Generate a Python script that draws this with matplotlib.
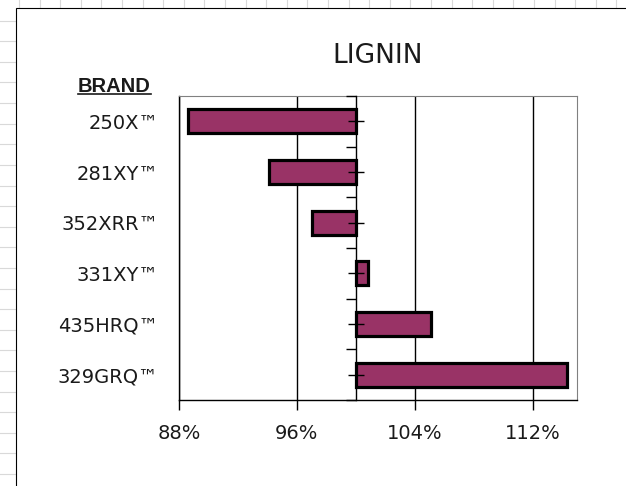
#!/usr/bin/env python3
"""Horizontal bar chart of lignin index by brand, centred on 100%."""

import matplotlib
matplotlib.use('Agg')
import matplotlib.pyplot as plt
from matplotlib.lines import Line2D
from matplotlib.patches import Rectangle

# data
brands = ['250X™', '281XY™', '352XRR™', '331XY™', '435HRQ™', '329GRQ™']
lignin_pct = [88.6, 94.1, 97.0, 100.8, 105.1, 114.3]
baseline = 100
x_ticks = [88, 96, 104, 112]
x_min, x_max = 88, 115

W, H = 626, 486
BAR_COLOR = '#993366'
TEXT_COLOR = '#1a1a1a'


def px(x, y):
    """pixel position (from top-left) -> figure fraction"""
    return x / W, 1 - y / H


fig = plt.figure(figsize=(W / 100, H / 100), dpi=100)

# spreadsheet cell lines peeking out around the chart area
for i in range(31):
    x = 19 + i * 20.6
    fig.add_artist(Line2D([x / W, x / W], [1, 1 - 7 / H], color='#d9d9d9',
                          lw=0.8, zorder=-2))
for i in range(24):
    y = 20.7 + i * 20.6
    fig.add_artist(Line2D([0, 15 / W], [1 - y / H, 1 - y / H], color='#d9d9d9',
                          lw=0.8, zorder=-2))

# chart area frame (runs off the right and bottom edge)
x0, y0 = px(15.5, 7.5)
fig.add_artist(Rectangle((x0, -0.1), 1.2, y0 + 0.1, transform=fig.transFigure,
                         facecolor='white', edgecolor='black', lw=0.8, zorder=-1))

# plot area
left, top = px(179, 96)
right, bottom = px(577, 400)
ax = fig.add_axes([left, bottom, right - left, top - bottom])
ax.set_facecolor('none')

ypos = list(range(len(brands)))
widths = [v - baseline for v in lignin_pct]
ax.barh(ypos, widths, left=baseline, height=0.48, color=BAR_COLOR,
        edgecolor='black', linewidth=2.3, zorder=3)

ax.set_xlim(x_min, x_max)
ax.set_ylim(len(brands) - 0.5, -0.5)

# x axis: percent labels and black vertical gridlines
ax.set_xticks(x_ticks)
ax.set_xticklabels([f'{t}%' for t in x_ticks])
ax.xaxis.grid(True, color='black', lw=1)
ax.set_axisbelow(True)
ax.tick_params(axis='x', direction='out', length=7, width=1, pad=10,
               labelsize=14, labelcolor=TEXT_COLOR)

# y axis labels on the left edge
ax.set_yticks(ypos)
ax.set_yticklabels(brands)
ax.tick_params(axis='y', length=0, pad=15, labelsize=14, labelcolor=TEXT_COLOR)

for side in ['top', 'right']:
    ax.spines[side].set_color('#808080')
    ax.spines[side].set_linewidth(0.8)
for side in ['left', 'bottom']:
    ax.spines[side].set_color('black')
    ax.spines[side].set_linewidth(1)

# category axis crossing at 100%, drawn over the bars
cat_axis = ax.secondary_yaxis((baseline - x_min) / (x_max - x_min))
cat_axis.set_zorder(5)
cat_axis.spines['left'].set_linewidth(1)
cat_axis.set_yticks(ypos)
cat_axis.set_yticklabels([])
cat_axis.set_yticks([p - 0.5 for p in ypos] + [ypos[-1] + 0.5], minor=True)
cat_axis.tick_params(axis='y', which='major', direction='inout', length=11, width=1)
cat_axis.tick_params(axis='y', which='minor', direction='out', length=7, width=1)

# title and column header
tx, ty = px(378, 56)
fig.text(tx, ty, 'LIGNIN', ha='center', va='center', fontsize=19,
         color=TEXT_COLOR)

bx, by = px(78, 91.7)
brand = fig.text(bx, by, 'BRAND', ha='left', va='baseline', fontsize=14.5,
                 fontweight='bold', family='Liberation Sans', color=TEXT_COLOR)
renderer = fig.canvas.get_renderer()
bb = brand.get_window_extent(renderer).transformed(fig.transFigure.inverted())
uy = 1 - 94 / H
fig.add_artist(Line2D([bb.x0, bb.x1], [uy, uy], color=TEXT_COLOR, lw=1.2))

fig.savefig('out.png', dpi=100)
